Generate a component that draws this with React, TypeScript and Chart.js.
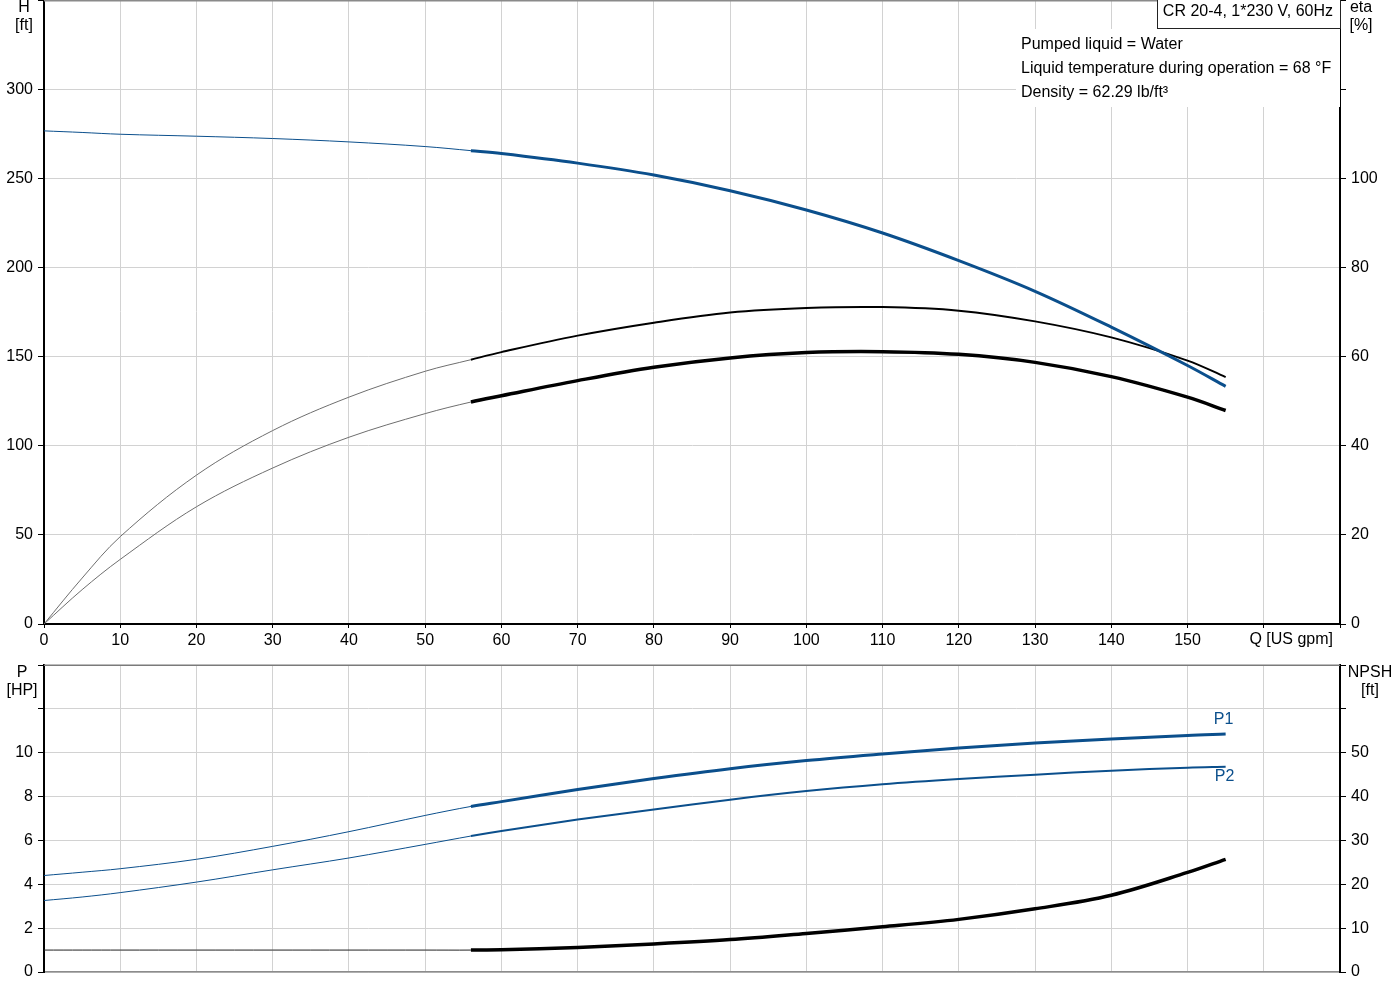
import { useEffect, useRef } from 'react';
import { Chart, registerables, type ChartConfiguration, type Plugin, type Scale } from 'chart.js';

Chart.register(...registerables);

const FONT = '"Liberation Sans", Arial, Helvetica, sans-serif';
const BLUE = '#0b4f8c';
const GRID = '#d2d2d2';

Chart.defaults.font.family = FONT;
Chart.defaults.font.size = 16;
Chart.defaults.color = '#000';

// flow rate Q [US gpm] at which every curve was read
const flow = [0, 5, 10, 20, 30, 40, 50, 56, 60, 70, 80, 90, 100, 110, 120, 130, 140, 150, 155];
// curves get thick from here on (operating range)
const rangeStart = 56;

// upper diagram: H [ft], eta [%]
const head = [276.6, 275.7, 274.7, 273.6, 272.3, 270.4, 267.8, 265.5, 263.9, 258.5, 251.8, 243.0, 232.2, 219.3, 203.8, 186.6, 166.5, 145.0, 133.3];
const etaPump = [0, 10.3, 19.6, 33.4, 43.4, 50.9, 56.7, 59.3, 61.0, 64.7, 67.6, 69.9, 70.9, 71.1, 70.3, 67.9, 64.3, 59.1, 55.4];
const etaTotal = [0, 7.7, 14.5, 26.3, 35.0, 41.9, 47.2, 49.8, 51.2, 54.6, 57.6, 59.7, 60.9, 61.1, 60.5, 58.7, 55.5, 50.9, 47.9];

// lower diagram: P [HP], NPSH [ft]
const powerP1 = [4.4, 4.55, 4.71, 5.14, 5.73, 6.4, 7.14, 7.55, 7.77, 8.32, 8.82, 9.27, 9.64, 9.94, 10.21, 10.44, 10.62, 10.79, 10.85];
const powerP2 = [3.26, 3.42, 3.62, 4.1, 4.66, 5.2, 5.82, 6.2, 6.43, 6.95, 7.41, 7.86, 8.25, 8.56, 8.8, 9.0, 9.18, 9.32, 9.36];
const npsh = [5.0, 5.0, 5.0, 5.0, 5.0, 5.0, 5.0, 5.0, 5.1, 5.6, 6.4, 7.4, 8.8, 10.3, 12.0, 14.4, 17.5, 22.7, 25.7];

// axis ranges and the last labelled tick of each
const qMax = 170, qLabelMax = 150;
const headMax = 350, headLabelMax = 300;
const etaMax = 140, etaLabelMax = 100;
const pMax = 14, pLabelMax = 10;
const npshMax = 70, npshLabelMax = 50;

const title = 'CR 20-4, 1*230 V, 60Hz';
const infoLines = ['Pumped liquid = Water', 'Liquid temperature during operation = 68 °F', 'Density = 62.29 lb/ft³'];

const pts = (ys: number[]) => flow.map((x, i) => ({ x, y: ys[i] }));

function curve(label: string, ys: number[], color: string, thin: number, thick: number, yAxisID: string, thinColor = color) {
  return {
    label,
    data: pts(ys),
    yAxisID,
    borderColor: color,
    borderWidth: thick,
    pointRadius: 0,
    fill: false,
    tension: 0.35,
    segment: {
      borderWidth: (c: any) => (c.p0.parsed.x < rangeStart ? thin : thick),
      borderColor: (c: any) => (c.p0.parsed.x < rangeStart ? thinColor : color),
    },
  };
}

const labelUpTo = (max: number) => (v: string | number) => (Number(v) <= max ? String(v) : '');

const fitY = (w: number) => (s: Scale) => {
  s.width = w;
  s.paddingTop = 0;
  s.paddingBottom = 0;
};
const fitX = (h: number) => (s: Scale) => {
  s.height = h;
  s.paddingLeft = 0;
  s.paddingRight = 0;
};

const axisTick = { color: GRID, tickColor: '#000', tickLength: 6 };
const blackBorder = { color: '#000', width: 2 };

const topDecor: Plugin<'line'> = {
  id: 'topDecor',
  beforeDatasetsDraw(chart) {
    const { ctx, chartArea: a } = chart;
    ctx.save();
    ctx.fillStyle = '#fff';
    ctx.fillRect(a.right - 324, 29, 324, 78);
    ctx.restore();
  },
  afterDraw(chart) {
    const { ctx, chartArea: a } = chart;
    ctx.save();
    ctx.strokeStyle = '#8a8a8a';
    ctx.lineWidth = 1.5;
    ctx.beginPath();
    ctx.moveTo(a.left, a.top + 0.75);
    ctx.lineTo(a.right, a.top + 0.75);
    ctx.stroke();

    ctx.font = `16px ${FONT}`;
    ctx.fillStyle = '#000';
    ctx.textBaseline = 'middle';
    ctx.textAlign = 'center';
    ctx.fillText('H', 24, 8);
    ctx.fillText('[ft]', 24, 26);
    ctx.fillText('eta', a.right + 21, 8);
    ctx.fillText('[%]', a.right + 21, 26);

    ctx.textAlign = 'right';
    ctx.fillText('Q [US gpm]', a.right - 7, a.bottom + 16);

    ctx.textAlign = 'left';
    infoLines.forEach((t, i) => ctx.fillText(t, a.right - 319, 45 + 24 * i));

    ctx.fillStyle = '#fff';
    ctx.fillRect(a.right - 183, 0, 184, 29);
    ctx.strokeStyle = '#222';
    ctx.lineWidth = 1;
    ctx.strokeRect(a.right - 182.5, -0.5, 183, 29);
    ctx.fillStyle = '#000';
    ctx.textAlign = 'right';
    ctx.fillText(title, a.right - 7, 12);
    ctx.restore();
  },
};

const bottomDecor: Plugin<'line'> = {
  id: 'bottomDecor',
  afterDraw(chart) {
    const { ctx, chartArea: a } = chart;
    ctx.save();
    ctx.strokeStyle = '#7a7a7a';
    ctx.lineWidth = 1.5;
    ctx.beginPath();
    ctx.moveTo(a.left, a.top + 0.25);
    ctx.lineTo(a.right, a.top + 0.25);
    ctx.stroke();

    ctx.font = `16px ${FONT}`;
    ctx.fillStyle = '#000';
    ctx.textBaseline = 'middle';
    ctx.textAlign = 'center';
    ctx.fillText('P', 22, a.top + 8);
    ctx.fillText('[HP]', 22, a.top + 26);
    ctx.fillText('NPSH', a.right + 30, a.top + 8);
    ctx.fillText('[ft]', a.right + 30, a.top + 26);

    // curve names at the end of the power curves
    ctx.fillStyle = BLUE;
    const end1 = chart.getDatasetMeta(0).data[flow.length - 1];
    const end2 = chart.getDatasetMeta(1).data[flow.length - 1];
    ctx.fillText('P1', end1.x - 2, end1.y - 14);
    ctx.fillText('P2', end2.x - 1, end2.y + 10);
    ctx.restore();
  },
};

const commonOptions = {
  responsive: false,
  animation: false as const,
  events: [],
  plugins: { legend: { display: false }, tooltip: { enabled: false } },
};

const topConfig: ChartConfiguration<'line'> = {
  type: 'line',
  data: {
    datasets: [
      curve('H', head, BLUE, 1, 3, 'y'),
      curve('eta', etaPump, '#000', 1, 2, 'eta', '#6e6e6e'),
      curve('eta total', etaTotal, '#000', 1, 3.5, 'eta', '#6e6e6e'),
    ],
  },
  options: {
    ...commonOptions,
    layout: { padding: 0 },
    scales: {
      x: {
        type: 'linear',
        min: 0,
        max: qMax,
        ticks: { stepSize: 10, autoSkip: false, maxRotation: 0, padding: 3, callback: labelUpTo(qLabelMax) },
        grid: { ...axisTick, tickLength: 4 },
        border: blackBorder,
        afterFit: fitX(31),
      },
      y: {
        position: 'left',
        min: 0,
        max: headMax,
        ticks: { stepSize: 50, padding: 5, callback: labelUpTo(headLabelMax) },
        grid: axisTick,
        border: blackBorder,
        afterFit: fitY(44),
      },
      eta: {
        position: 'right',
        min: 0,
        max: etaMax,
        ticks: { stepSize: 20, padding: 5, callback: labelUpTo(etaLabelMax) },
        grid: { ...axisTick, drawOnChartArea: false },
        border: blackBorder,
        afterFit: fitY(60),
      },
    },
  },
  plugins: [topDecor],
};

const bottomConfig: ChartConfiguration<'line'> = {
  type: 'line',
  data: {
    datasets: [
      curve('P1', powerP1, BLUE, 1, 3, 'y'),
      curve('P2', powerP2, BLUE, 1, 2, 'y'),
      curve('NPSH', npsh, '#000', 1, 3.5, 'npsh', '#222'),
    ],
  },
  options: {
    ...commonOptions,
    layout: { padding: { top: 10 } },
    scales: {
      x: {
        type: 'linear',
        min: 0,
        max: qMax,
        ticks: { display: false, stepSize: 10 },
        grid: { color: GRID, drawTicks: false },
        border: { color: '#8c8c8c', width: 1.5 },
        afterFit: fitX(28),
      },
      y: {
        position: 'left',
        min: 0,
        max: pMax,
        ticks: { stepSize: 2, padding: 5, callback: labelUpTo(pLabelMax) },
        grid: axisTick,
        border: blackBorder,
        afterFit: fitY(44),
      },
      npsh: {
        position: 'right',
        min: 0,
        max: npshMax,
        ticks: { stepSize: 10, padding: 5, callback: labelUpTo(npshLabelMax) },
        grid: { ...axisTick, drawOnChartArea: false },
        border: blackBorder,
        afterFit: fitY(60),
      },
    },
  },
  plugins: [bottomDecor],
};

function ChartCanvas({ config, top, height }: { config: ChartConfiguration<'line'>; top: number; height: number }) {
  const canvasRef = useRef<HTMLCanvasElement | null>(null);

  useEffect(() => {
    if (!canvasRef.current) return;
    const chart = new Chart(canvasRef.current, config);
    return () => chart.destroy();
  }, [config]);

  return (
    <canvas
      ref={canvasRef}
      width={1400}
      height={height}
      style={{ position: 'absolute', left: 0, top, width: 1400, height }}
    />
  );
}

export default function App() {
  return (
    <div style={{ position: 'absolute', left: 0, top: 0, width: 1400, height: 1000, background: '#fff' }}>
      <ChartCanvas config={topConfig} top={0} height={655} />
      <ChartCanvas config={bottomConfig} top={655} height={345} />
    </div>
  );
}
